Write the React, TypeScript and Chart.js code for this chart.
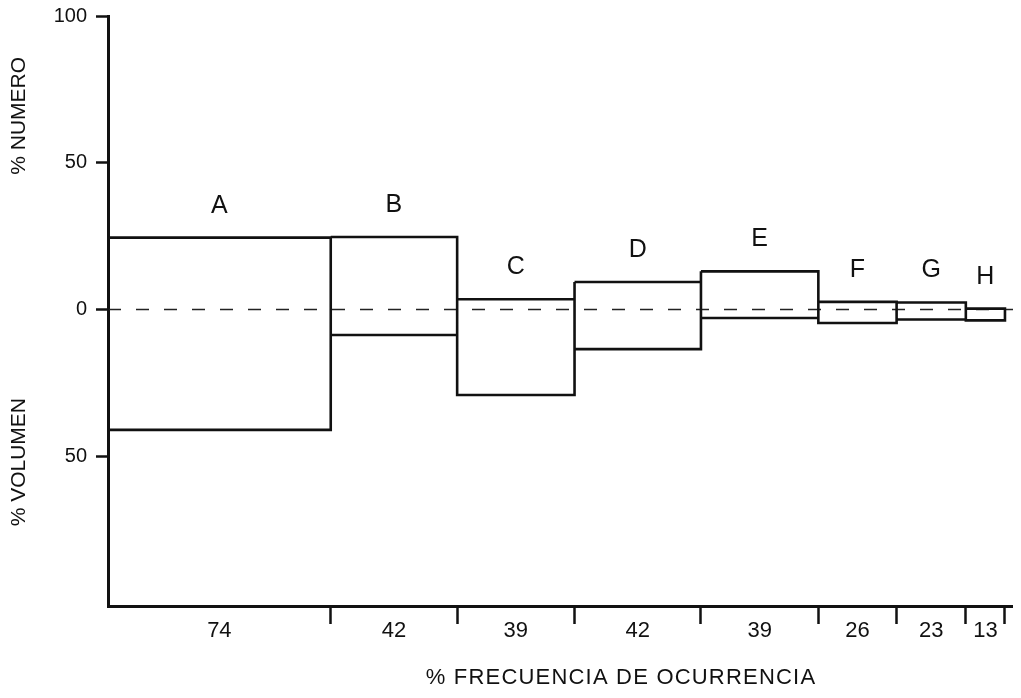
import React, { useEffect, useRef } from 'react';
import { Chart, registerables } from 'chart.js';

Chart.register(...registerables);

// ---- data ----
const categories = ['A', 'B', 'C', 'D', 'E', 'F', 'G', 'H'];
const frequency = [74, 42, 39, 42, 39, 26, 23, 13];
const numero = [24.5, 24.7, 3.5, 9.4, 13, 2.6, 2.4, 0.3];
const volumen = [41, 8.7, 29.1, 13.5, 2.9, 4.6, 3.4, 3.7];
const yTickValues = [100, 50, 0, -50];
const xTitle = '% FRECUENCIA DE OCURRENCIA';
const yTitleTop = '% NUMERO';
const yTitleBottom = '% VOLUMEN';

const FONT = '"Liberation Sans", Arial, Helvetica, sans-serif';
const INK = '#111';

const edges: number[] = [0];
frequency.forEach((f) => edges.push(edges[edges.length - 1] + f));

type XT = { value: number; label: string };
const xTicks: XT[] = [];
frequency.forEach((f, i) => {
  xTicks.push({ value: (edges[i] + edges[i + 1]) / 2, label: String(f) });
  xTicks.push({ value: edges[i + 1], label: '' });
});

const outline: any[] = [];
categories.forEach((_, i) => {
  const x0 = edges[i];
  const x1 = edges[i + 1];
  const n = numero[i];
  const v = -volumen[i];
  outline.push({ x: x0, y: n }, { x: x1, y: n }, { x: x1, y: v }, { x: x0, y: v }, { x: x0, y: n });
  outline.push({ x: x0, y: null });
});

const textPlugin = {
  id: 'costelloText',
  afterDraw(chart: any) {
    const { ctx, scales } = chart;
    const x = scales.x;
    const y = scales.y;
    ctx.save();
    ctx.fillStyle = INK;
    ctx.textAlign = 'center';
    ctx.textBaseline = 'middle';
    ctx.font = `25px ${FONT}`;
    categories.forEach((c, i) => {
      const cx = x.getPixelForValue((edges[i] + edges[i + 1]) / 2);
      const cy = y.getPixelForValue(numero[i]) - 32;
      ctx.fillText(c, cx, cy);
    });
    ctx.font = `21px ${FONT}`;
    const tx = 11;
    [[yTitleTop, 66], [yTitleBottom, -52]].forEach(([t, val]) => {
      ctx.save();
      ctx.translate(tx, y.getPixelForValue(val as number));
      ctx.rotate(-Math.PI / 2);
      ctx.fillText(t as string, 0, 0);
      ctx.restore();
    });
    ctx.font = `22px ${FONT}`;
    try { (ctx as any).letterSpacing = '1.2px'; } catch (e) {}
    ctx.fillText(xTitle, 613, 670);
    ctx.restore();
  },
};

export default function App() {
  const ref = useRef<HTMLCanvasElement | null>(null);
  useEffect(() => {
    if (!ref.current) return;
    const chart = new Chart(ref.current, {
      type: 'line',
      data: {
        datasets: [
          {
            data: outline,
            borderColor: INK,
            borderWidth: 2.6,
            pointRadius: 0,
            spanGaps: false,
            tension: 0,
            fill: false,
          } as any,
          {
            data: [{ x: 0, y: 0 }, { x: 302, y: 0 }],
            borderColor: '#222',
            borderWidth: 1.6,
            borderDash: [13, 15],
            pointRadius: 0,
            fill: false,
          } as any,
        ],
      },
      options: {
        animation: false,
        responsive: true,
        maintainAspectRatio: false,
        layout: { padding: { top: 8, right: 4, left: 0, bottom: 0 } },
        plugins: { legend: { display: false }, tooltip: { enabled: false } },
        scales: {
          x: {
            type: 'linear',
            min: 0,
            max: 302,
            afterBuildTicks: (s: any) => {
              s.ticks = xTicks.map((t) => ({ value: t.value }));
            },
            afterFit: (s: any) => {
              s.height = 92;
              s.paddingLeft = 0;
              s.paddingRight = 0;
            },
            grid: {
              drawOnChartArea: false,
              tickLength: 18,
              tickWidth: 2.5,
              tickColor: (ctx: any) => {
                const v = ctx.tick ? ctx.tick.value : null;
                const t = xTicks.find((k) => k.value === v);
                return t && t.label ? 'rgba(0,0,0,0)' : INK;
              },
            },
            border: { color: INK, width: 3 },
            ticks: {
              autoSkip: false,
              maxRotation: 0,
              padding: -6,
              color: INK,
              font: { family: FONT, size: 22 },
              callback: (v: any) => {
                const t = xTicks.find((k) => k.value === v);
                return t ? t.label : '';
              },
            },
          },
          y: {
            type: 'linear',
            min: -101,
            max: 100,
            afterBuildTicks: (s: any) => {
              s.ticks = yTickValues.map((v) => ({ value: v }));
            },
            afterFit: (s: any) => {
              s.width = 100;
              s.paddingTop = 0;
              s.paddingBottom = 0;
            },
            grid: { drawOnChartArea: false, tickLength: 12, tickWidth: 2.5, tickColor: INK },
            border: { color: INK, width: 3 },
            ticks: {
              padding: 9,
              color: INK,
              font: { family: FONT, size: 20 },
              callback: (v: any) => String(Math.abs(Number(v))),
            },
          },
        },
      },
      plugins: [textPlugin],
    });
    return () => chart.destroy();
  }, []);
  return (
    <div style={{ width: 1013, height: 690, position: 'relative' }}>
      <canvas ref={ref} />
    </div>
  );
}
